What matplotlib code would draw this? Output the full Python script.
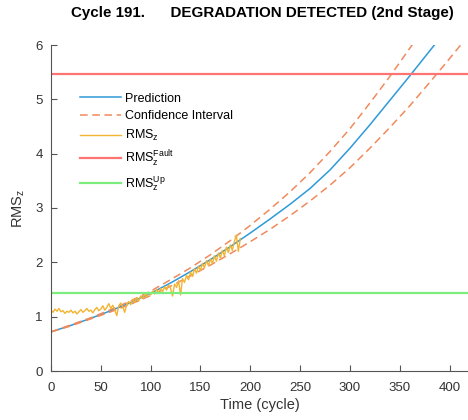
import numpy as np
import matplotlib
matplotlib.use("Agg")
import matplotlib.pyplot as plt

plt.rcParams['font.family'] = ['Liberation Sans', 'DejaVu Sans']
plt.rcParams['mathtext.fontset'] = 'custom'
plt.rcParams['mathtext.rm'] = 'Liberation Sans'
plt.rcParams['mathtext.it'] = 'Liberation Sans:italic'

# prediction curve and confidence bounds
pred_x = [0, 20, 40, 60, 80, 100, 120, 140, 160, 180, 200, 220, 240, 260,
          280, 300, 320, 340, 360, 380, 400]
pred_y = [0.72, 0.84, 0.97, 1.11, 1.26, 1.43, 1.62, 1.83, 2.05, 2.29, 2.54,
          2.80, 3.07, 3.36, 3.70, 4.10, 4.53, 4.98, 5.43, 5.89, 6.35]

upper_x = [0, 20, 40, 60, 80, 100, 120, 140, 160, 180, 200, 220, 240, 260,
           280, 300, 320, 340, 362, 380]
upper_y = [0.72, 0.85, 0.98, 1.13, 1.29, 1.47, 1.68, 1.90, 2.14, 2.40, 2.68,
           2.98, 3.30, 3.65, 4.04, 4.46, 4.93, 5.42, 5.99, 6.47]

lower_x = [0, 20, 40, 60, 80, 100, 120, 140, 160, 180, 200, 220, 240, 260,
           280, 300, 320, 340, 360, 380, 400, 420]
lower_y = [0.72, 0.83, 0.96, 1.09, 1.23, 1.39, 1.56, 1.75, 1.95, 2.16, 2.38,
           2.61, 2.86, 3.13, 3.42, 3.74, 4.10, 4.48, 4.88, 5.31, 5.75, 6.20]

# measured RMS_z, every 2 cycles up to cycle 190
rms_x = list(range(0, 192, 2))
rms_y = [1.12, 1.08, 1.14, 1.10, 1.15, 1.09, 1.11, 1.06, 1.10, 1.08,
         1.12, 1.07, 1.10, 1.05, 1.09, 1.13, 1.08, 1.11, 1.15, 1.10,
         1.12, 1.07, 1.13, 1.17, 1.11, 1.14, 1.20, 1.12, 1.17, 1.24,
         1.15, 1.21, 1.12, 1.02, 1.20, 1.25, 1.18, 1.08, 1.23, 1.28,
         1.22, 1.32, 1.26, 1.35, 1.29, 1.38, 1.33, 1.41, 1.36, 1.45,
         1.40, 1.47, 1.42, 1.50, 1.44, 1.52, 1.46, 1.55, 1.49, 1.58,
         1.52, 1.38, 1.60, 1.54, 1.66, 1.40, 1.70, 1.63, 1.76, 1.68,
         1.82, 1.74, 1.88, 1.80, 1.93, 1.85, 1.98, 1.90, 2.03, 1.94,
         2.06, 1.98, 2.12, 2.02, 2.17, 2.08, 2.22, 2.12, 2.28, 2.18,
         2.32, 2.22, 2.38, 2.50, 2.20, 2.44]

fault_level = 5.46
up_level = 1.43

fig = plt.figure(figsize=(4.68, 4.2), dpi=100)
ax = fig.add_axes([51 / 468, 49 / 420, 417 / 468, 326 / 420])

ax.plot(pred_x, pred_y, color="#2e9ad8", lw=1.1, label="Prediction")
ax.plot(upper_x, upper_y, color="#f08a5d", lw=1.1, dashes=(5, 3),
        label="Confidence Interval")
ax.plot(lower_x, lower_y, color="#f08a5d", lw=1.1, dashes=(5, 3))
ax.plot(rms_x, rms_y, color="#f2b431", lw=1.0, label=r"RMS$_{\mathregular{z}}$")
ax.axhline(fault_level, color="#ff7373", lw=1.6,
           label=r"RMS$_{\mathregular{z}}^{\mathregular{Fault}}$")
ax.axhline(up_level, color="#7ced7c", lw=1.6,
           label=r"RMS$_{\mathregular{z}}^{\mathregular{Up}}$")

ax.set_xlim(0, 418.5)
ax.set_ylim(0, 6)
ax.set_xticks(np.arange(0, 401, 50))
ax.set_yticks(np.arange(0, 7, 1))
ax.spines['top'].set_visible(False)
ax.spines['right'].set_visible(False)
for s in ['left', 'bottom']:
    ax.spines[s].set_color("#555555")
ax.tick_params(direction='in', length=4, color="#555555", labelsize=9.5,
               labelcolor="#333333")
ax.tick_params(axis='x', pad=8)
ax.tick_params(axis='y', pad=6)

ax.set_xlabel("Time (cycle)", fontsize=10.5, color="#333333", labelpad=3)
ax.set_ylabel(r"RMS$_{\mathregular{z}}$", fontsize=10.5, color="#333333",
              labelpad=6)

fig.text(0.56, 0.968, "Cycle 191.      DEGRADATION DETECTED (2nd Stage)",
         ha='center', va='center', fontsize=10.9, fontweight='bold')

ax.legend(loc='upper left', bbox_to_anchor=(0.058, 0.869), frameon=False,
          fontsize=9, handlelength=3.3, handletextpad=0.3, labelspacing=0.45,
          borderaxespad=0)

fig.savefig("out.png", dpi=100)
